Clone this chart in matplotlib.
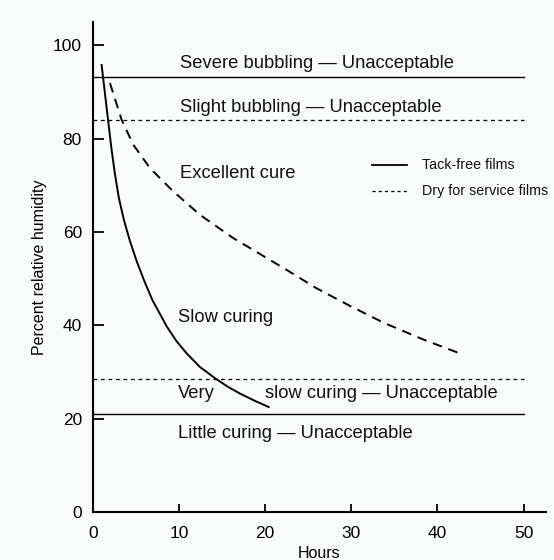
import matplotlib
matplotlib.use('Agg')
import matplotlib.pyplot as plt

# solid curve: tack-free films
tack_hours = [1.0, 1.4, 1.75, 2.1, 2.5, 3.0, 3.6, 4.3, 5.1, 6.0, 6.9, 8.55, 9.7, 10.87,
              12.4, 14.15, 15.6, 17.05, 18.7, 20.4]
tack_rh = [95.8, 89.5, 84.0, 78.5, 73.0, 67.3, 62.5, 58.0, 53.6, 49.3, 45.4, 39.8, 36.6, 34.0,
           31.1, 28.7, 26.9, 25.4, 23.9, 22.5]

# dashed curve: dry for service films
dry_hours = [1.97, 3.33, 4.68, 6.61, 9.32, 12.41, 16.28, 22.47, 25.9, 29.8, 33.7, 38.3, 43.0]
dry_rh = [91.9, 84.0, 78.7, 73.7, 68.7, 63.7, 58.7, 51.9, 48.0, 44.2, 40.6, 37.0, 33.7]

# boundary lines
solid_levels = [93.2, 21.0]
dashed_levels = [84.0, 28.5]
line_end = 50.0

zone_labels = ['Severe bubbling \u2014 Unacceptable', 'Slight bubbling \u2014 Unacceptable',
               'Excellent cure', 'Slow curing', 'Very', 'slow curing \u2014 Unacceptable',
               'Little curing \u2014 Unacceptable']
zone_x = [10.1, 10.1, 10.1, 9.9, 9.9, 20.0, 9.9]
zone_y = [96.2, 86.6, 72.5, 41.6, 25.5, 25.5, 16.9]

xticks = [0, 10, 20, 30, 40, 50]
yticks = [0, 20, 40, 60, 80, 100]

plt.rcParams['font.family'] = ['Liberation Sans', 'DejaVu Sans']

fig = plt.figure(figsize=(5.54, 5.60), dpi=100, facecolor='#f9fbfb')
ax = fig.add_axes([93/554, 48/560, 453/554, 490/560])
ax.set_facecolor('none')

ax.set_xlim(0, 52.6)
ax.set_ylim(0, 105)

for lev in solid_levels:
    ax.plot([0, line_end], [lev, lev], color='black', lw=1.0)
for lev in dashed_levels:
    ax.plot([0, line_end], [lev, lev], color='black', lw=0.9, ls=(0, (3, 3)))

ax.plot(tack_hours, tack_rh, color='black', lw=1.4)
ax.plot(dry_hours, dry_rh, color='black', lw=1.4, ls=(0, (5, 3.5)))

for lab, x, y in zip(zone_labels, zone_x, zone_y):
    ax.text(x, y, lab, fontsize=13.2, va='center', ha='left', color='#111111')

# legend drawn by hand
fig_leg = [(372/554, 1 - 165/560, '-', 'Tack-free films'),
           (372/554, 1 - 191/560, (0, (2.5, 2.5)), 'Dry for service films')]
for lx, ly, ls, lab in fig_leg:
    fig.add_artist(plt.Line2D([lx, lx + 35/554], [ly, ly], color='black', lw=1.3 if ls == '-' else 0.9, ls=ls))
    fig.text(422/554, ly, lab, fontsize=10.3, va='center', ha='left', color='#111111')

ax.set_xticks(xticks)
ax.set_yticks(yticks)
ax.tick_params(direction='in', length=8, width=1.3, labelsize=12.5, pad=8)
ax.tick_params(axis='x', length=6, pad=10)
for s in ['top', 'right']:
    ax.spines[s].set_visible(False)
for s in ['left', 'bottom']:
    ax.spines[s].set_linewidth(1.5)

ax.set_xlabel('Hours', fontsize=11.5, labelpad=4)
ax.set_ylabel('Percent relative humidity', fontsize=11.5, labelpad=4)

fig.savefig('out.png', dpi=100, facecolor=fig.get_facecolor())
